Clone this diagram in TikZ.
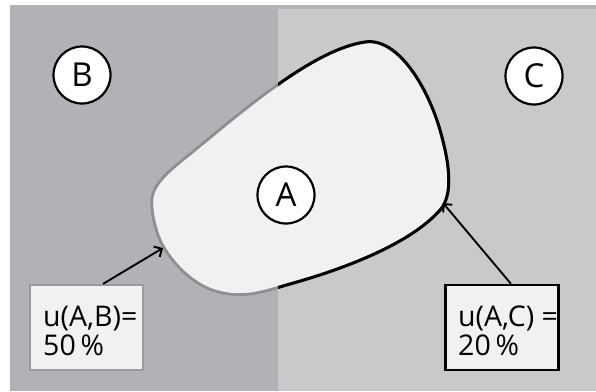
\documentclass[tikz,border=0pt]{standalone}
\usepackage{fontspec}
\setmainfont{Open Sans}
\usetikzlibrary{arrows.meta}
\definecolor{regionB}{HTML}{B1B2B6}
\definecolor{regionC}{HTML}{C8C9CB}
\definecolor{blobfill}{HTML}{F0F1F3}
\definecolor{greyedge}{HTML}{8E8F93}
\definecolor{greybox}{HTML}{9A9B9E}
\tikzset{
  lettercirc/.style={circle, draw=black, fill=white, line width=2.2pt,
    minimum size=57pt, inner sep=0pt, font=\fontsize{33}{33}\selectfont},
  valuebox/.style={rectangle, fill=blobfill, line width=2.2pt,
    minimum width=113pt, minimum height=85pt, inner sep=0pt},
  valuetext/.style={align=left, anchor=north west, inner sep=0pt,
    font=\fontsize{28.5}{29}\selectfont},
  pointer/.style={line width=1.9pt, -{Straight Barb[length=6pt,width=12pt]}},
}
\begin{document}
\begin{tikzpicture}[x=1pt,y=-1pt]
\useasboundingbox (0,0) rectangle (596,391);
% background regions
\fill[regionB] (10,5) rectangle (596,391);
\fill[regionC] (278,9) rectangle (596,391);
% region A outline
\def\blobpath{(152,205) .. controls (150,188) and (163,176) .. (185,158)
  .. controls (235,118) and (310,50) .. (365,42)
  .. controls (398,37) and (428,88) .. (440,130)
  .. controls (451,168) and (452,195) .. (441,209)
  .. controls (410,245) and (340,270) .. (290,284)
  .. controls (262,292) and (242,300) .. (212,290)
  .. controls (185,280) and (163,252) .. (157,232)
  .. controls (154,222) and (152,214) .. (152,205) -- cycle}
\fill[blobfill, draw=greyedge, line width=2.8pt] \blobpath;
\begin{scope}
  \clip (278,0) rectangle (596,391);
  \draw[black, line width=3pt] \blobpath;
\end{scope}
% letters
\node[lettercirc] (B) at (82,75) {B};
\node[lettercirc] (C) at (534,76) {C};
\node[lettercirc] (A) at (286,195) {A};
% value boxes
\node[valuebox, draw=greybox] (boxAB) at (86.5,327.5) {};
\node[valuetext] (txtAB) at (43,306) {u(A,B)=\\50\,\%};
\node[valuebox, draw=black] (boxAC) at (502,327.5) {};
\node[valuetext] (txtAC) at (458,306) {u(A,C) =\\20\,\%};
% pointers to the boundary
\coordinate (edgeAB) at (163,248);
\coordinate (edgeAC) at (443,203);
\draw[pointer] ([xshift=16.5pt]boxAB.north) -- (edgeAB);
\draw[pointer] ([xshift=9pt]boxAC.north) -- (edgeAC);
\end{tikzpicture}
\end{document}
